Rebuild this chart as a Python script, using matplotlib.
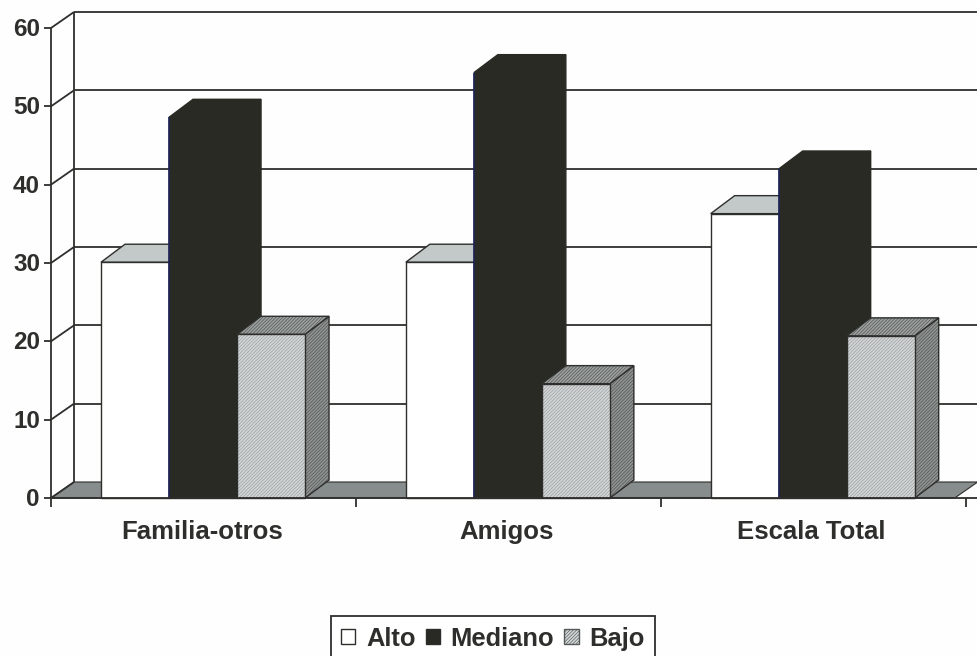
import matplotlib
matplotlib.use('Agg')
import matplotlib.pyplot as plt
from matplotlib.patches import Patch, Polygon

categories = ['Familia-otros', 'Amigos', 'Escala Total']
series_names = ['Alto', 'Mediano', 'Bajo']
alto = [30.1, 30.1, 36.3]
mediano = [48.6, 54.3, 42.0]
bajo = [20.9, 14.6, 20.7]
y_ticks = [0, 10, 20, 30, 40, 50, 60]

INK = '#2e2e2c'
DARK = '#2a2a24'
plt.rcParams['hatch.linewidth'] = 0.45
plt.rcParams['font.family'] = ['Liberation Sans', 'DejaVu Sans']

W, H = 977, 656
fig = plt.figure(figsize=(W / 100, H / 100), dpi=100, facecolor='#fefefe')
ax = fig.add_axes([51 / W, 1 - 498 / H, 914.5 / W, 470 / H])
ax.set_xlim(0, 3)
ax.set_ylim(0, 60)
ax.axis('off')

# depth of the pseudo 3D box, in data units
dx = 23 / 304.8
dy = 16 / 7.833
bar_dx = 24 / 304.8
bar_dy = 18 / 7.833
bar_w = 68 / 304.8
x_end = 3.04


def poly(pts, z, facecolor, edge=INK, lw=1.0, hatch=None, hatch_color=None):
    if hatch:
        # hatch takes the edge colour, so the outline goes on as a second patch
        ax.add_patch(Polygon(pts, closed=True, zorder=z, clip_on=False, facecolor=facecolor,
                             edgecolor=hatch_color, linewidth=0, hatch=hatch))
        ax.add_patch(Polygon(pts, closed=True, zorder=z, clip_on=False, fill=False,
                             edgecolor=edge, linewidth=lw))
    else:
        ax.add_patch(Polygon(pts, closed=True, zorder=z, clip_on=False, facecolor=facecolor,
                             edgecolor=edge, linewidth=lw))


def line(xs, ys, z=2, lw=1.3, color=INK):
    ax.plot(xs, ys, color=color, lw=lw, zorder=z, clip_on=False, solid_capstyle='butt')


# floor
poly([(0, 0), (dx, dy), (x_end, dy), (x_end - dx, 0)], 1, '#878c8c', lw=0.8)

# walls and gridlines
for t in y_ticks:
    if t > 0:
        line([dx, x_end], [t + dy, t + dy])
    line([0, dx], [t, t + dy])
    line([-7 / 304.8, 0], [t, t])
    ax.text(-11 / 304.8, t - 0.2, str(t), ha='right', va='center', fontsize=17.5,
            fontweight='bold', color=INK, clip_on=False)
line([0, 0], [0, 60])
line([dx, dx], [dy, 60 + dy])

# category axis
line([0, x_end], [0, 0], z=8)
for i in range(4):
    line([i, i], [0, -1.2], z=8)
for i, c in enumerate(categories):
    ax.text(i + 0.495, -4.3, c, ha='center', va='center', fontsize=18.5,
            fontweight='bold', color=INK, clip_on=False)

styles = [
    dict(front='#ffffff', top='#c3c8c8', side='#c3c8c8', edge=INK),
    dict(front=DARK, top=DARK, side=DARK, edge=DARK),
    dict(front='#d2d6d6', top='#9ba09f', side='#8e9392', edge=INK, hatch='//////////',
         front_hatch='#969a9a', dark_hatch='#4e5352'),
]


def draw_bar(x0, h, st, z):
    x1 = x0 + bar_w
    hatch = st.get('hatch')
    dark = st.get('dark_hatch')
    poly([(x1, 0), (x1 + bar_dx, bar_dy), (x1 + bar_dx, h + bar_dy), (x1, h)], z, st['side'],
         edge=st['edge'], hatch=hatch, hatch_color=dark)
    poly([(x0, h), (x0 + bar_dx, h + bar_dy), (x1 + bar_dx, h + bar_dy), (x1, h)], z, st['top'],
         edge=st['edge'], hatch=hatch, hatch_color=dark)
    poly([(x0, 0), (x0, h), (x1, h), (x1, 0)], z + 0.1, st['front'],
         edge=st['edge'], hatch=hatch, hatch_color=st.get('front_hatch'))


start = 50 / 304.8
for g in range(len(categories)):
    for s, vals in enumerate([alto, mediano, bajo]):
        draw_bar(g + start + s * bar_w, vals[g], styles[s], 3 + s)
    # dark blue left edge on the tall bar
    xm = g + start + bar_w
    line([xm, xm], [0, mediano[g]], z=4.6, lw=1.2, color='#1c2358')

handles = [
    Patch(facecolor='#ffffff', edgecolor=INK, linewidth=1.0),
    Patch(facecolor=DARK, edgecolor=INK, linewidth=1.0),
    Patch(facecolor='#d2d6d6', edgecolor='#55595a', linewidth=1.0, hatch='//////////'),
]
leg = ax.legend(handles, series_names, loc='upper center', ncol=3, frameon=True, fancybox=False,
                bbox_to_anchor=(442 / 914.5, -118 / 470), borderaxespad=0,
                prop=dict(size=18.4, weight='bold'), labelcolor=INK, handlelength=0.55, handleheight=0.55,
                handletextpad=0.42, columnspacing=0.4, borderpad=0.42, framealpha=1)
leg.get_frame().set_edgecolor(INK)
leg.get_frame().set_linewidth(1.3)

fig.savefig('out.png', dpi=100, facecolor=fig.get_facecolor())
plt.close(fig)
